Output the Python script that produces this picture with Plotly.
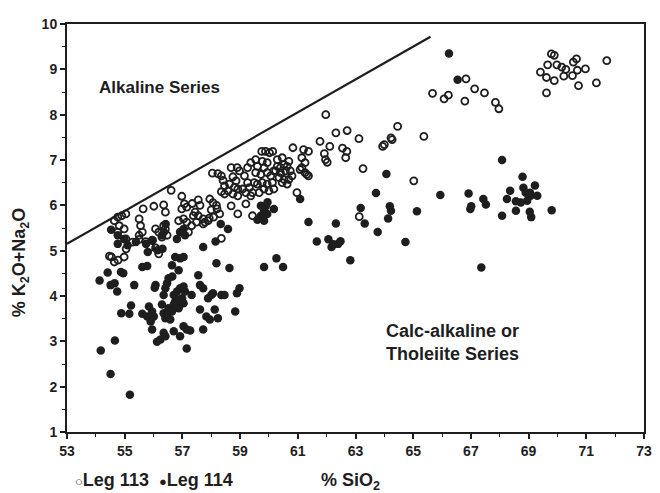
import plotly.graph_objects as go

# Leg 113 (open circles): SiO2, K2O+Na2O
leg113_x = [54.64,54.76,54.90,55.04,54.81,54.98,54.76,55.50,55.55,55.61,55.50,56.07,56.18,56.35,56.41,56.47,56.29,
            56.87,57.04,57.15,57.32,57.21,57.38,57.55,57.72,57.78,57.89,58.35,
            55.04,55.27,55.50,55.73,55.95,55.90,56.07,55.05,54.54,54.77,54.47,54.98,54.64,56.18,
            55.64,56.01,56.35,56.41,56.61,56.98,57.07,57.15,56.98,57.34,57.55,57.61,57.44,57.49,57.72,
            57.95,58.06,58.18,58.00,58.20,57.93,58.29,58.08,
            58.04,58.23,58.35,58.41,58.46,58.35,58.58,58.46,
            58.69,58.90,58.98,58.75,58.86,58.63,58.81,58.92,58.75,58.92,
            58.69,58.92,59.20,
            59.15,59.26,59.09,59.20,59.32,59.43,59.37,59.49,59.60,59.54,59.72,59.60,59.77,59.94,59.83,59.94,60.06,60.17,60.12,59.94,59.77,59.66,59.83,60.00,60.17,
            59.26,59.37,59.54,59.75,59.88,60.02,60.13,59.43,
            60.29,60.46,60.52,60.63,60.69,60.40,60.29,60.23,60.40,60.57,60.74,60.35,60.52,60.69,60.80,60.63,60.46,
            60.83,60.97,61.20,61.37,61.14,61.25,61.14,61.08,61.25,61.31,61.37,
            61.77,61.97,61.92,61.96,62.02,
            62.11,62.32,62.71,62.55,62.70,62.66,63.12,63.26,63.94,64.00,64.27,64.23,64.46,65.37,65.02,63.13,
            65.67,66.07,66.22,66.79,66.83,67.13,67.47,67.85,67.97,
            69.79,69.89,69.66,69.41,69.62,69.89,69.62,69.98,70.15,70.29,70.22,70.52,70.55,70.66,70.69,70.97,70.73,71.35,71.71]
leg113_y = [5.66,5.74,5.77,5.81,5.55,5.48,5.41,5.70,5.55,5.41,5.34,5.48,5.41,5.55,5.48,5.34,5.30,
            5.66,5.70,5.63,5.55,5.41,5.77,5.77,5.70,5.63,5.66,5.27,
            5.26,5.19,5.25,5.20,5.23,5.08,5.06,5.04,4.86,4.79,4.88,4.86,4.75,4.93,
            5.92,5.98,6.01,5.85,6.33,6.20,6.03,5.96,5.92,6.04,6.12,6.00,5.85,5.63,5.59,
            6.14,6.06,6.00,5.90,5.92,5.72,5.81,5.74,
            6.71,6.70,6.65,6.55,6.43,6.30,6.32,6.25,
            6.83,6.83,6.76,6.63,6.54,6.47,6.40,6.36,6.25,6.21,
            5.99,5.81,6.03,
            6.65,6.50,6.36,6.28,6.39,6.28,6.21,6.50,6.47,6.72,6.68,6.86,6.97,6.94,6.83,6.72,6.65,6.76,6.50,6.47,6.50,6.28,6.36,6.32,6.36,
            6.83,6.94,7.01,7.19,7.19,7.16,7.19,5.77,
            7.01,7.05,6.90,6.86,6.97,6.83,6.86,6.76,6.72,6.76,6.76,6.61,6.57,6.57,6.65,6.47,6.50,
            7.27,6.28,7.23,7.19,7.05,6.94,6.83,6.79,6.72,6.68,6.65,
            7.41,8.00,7.14,7.01,6.95,
            7.30,7.60,7.65,7.26,7.19,7.05,7.47,6.81,7.30,7.34,7.45,7.49,7.74,7.52,6.54,5.75,
            8.47,8.35,8.43,8.30,8.79,8.57,8.48,8.27,8.13,
            9.34,9.31,9.10,8.94,8.82,8.75,8.48,9.10,9.05,9.00,8.85,8.86,9.16,9.23,8.98,9.01,8.64,8.70,9.19]

# Leg 114 (filled circles)
leg114_x = [66.24,66.54,68.08,64.07,63.71,63.18,63.32,64.19,64.23,64.13,63.77,65.13,64.73,62.32,
            62.06,62.17,62.23,62.40,62.48,
            65.94,66.92,67.01,66.98,67.43,67.52,68.08,68.79,68.36,68.82,69.22,68.25,68.56,68.73,68.95,69.07,69.30,68.90,69.05,68.56,69.04,69.09,69.80,
            62.82,67.36,
            54.13,54.41,54.51,54.65,54.74,54.87,54.95,54.88,55.16,55.22,55.33,54.17,54.66,54.51,55.18,
            55.61,55.78,56.07,56.04,55.61,55.78,55.90,55.95,55.84,56.01,55.95,56.12,56.24,
            56.29,56.35,56.41,56.52,56.47,56.58,56.64,56.35,56.41,56.35,56.41,56.47,56.52,56.70,
            56.64,56.75,56.92,57.04,56.87,
            56.70,56.81,56.92,57.04,57.09,56.75,56.87,56.99,56.92,57.04,56.87,56.70,
            56.92,57.04,57.15,57.27,57.15,57.32,57.55,57.61,57.72,57.61,57.72,57.83,57.95,57.89,58.00,58.06,58.12,58.23,58.18,58.35,58.46,58.63,58.83,58.89,58.98,59.83,60.26,60.49,
            54.53,54.76,54.98,54.76,55.10,56.29,57.04,56.92,56.81,57.09,58.15,58.33,58.58,57.72,
            59.60,59.72,59.83,59.94,59.89,59.72,59.95,59.83,
            60.17,61.37,61.66,61.08,
            55.39,55.74,55.97,56.14,56.31,55.80,56.42,56.36,56.65]
leg114_y = [9.35,8.77,7.00,6.69,6.27,5.94,5.60,5.98,5.88,5.71,5.41,5.87,5.19,5.60,
            5.25,5.08,5.14,5.15,5.21,
            6.23,6.26,5.98,5.92,6.14,6.02,5.77,6.63,6.32,6.39,6.44,6.14,6.09,6.06,6.10,6.21,6.21,6.28,6.28,5.88,5.86,5.74,5.89,
            4.79,4.63,
            4.34,4.52,4.24,4.28,4.10,4.53,4.50,3.62,3.61,3.79,4.24,2.80,3.02,2.28,1.82,
            4.64,4.66,4.24,4.18,3.61,3.55,3.44,3.66,3.77,3.55,3.26,2.99,3.04,
            3.81,3.62,3.51,3.73,3.59,3.48,3.66,3.19,3.11,4.02,4.17,4.28,4.39,3.22,
            4.68,4.86,4.83,4.86,4.57,
            4.02,4.10,4.17,4.21,4.10,3.88,3.92,3.95,3.81,3.84,3.73,3.81,
            3.11,3.33,3.26,3.24,2.84,4.02,4.46,4.24,4.17,3.70,3.26,3.55,3.48,3.95,4.02,4.06,3.70,3.51,4.72,4.02,4.02,4.62,3.66,4.06,4.17,4.64,4.83,4.64,
            5.46,5.34,5.26,5.15,5.12,5.34,5.48,5.41,5.26,5.34,5.20,5.59,5.48,5.08,
            5.68,5.77,5.88,5.81,5.98,5.99,6.07,5.66,
            5.92,5.63,5.20,6.14,
            5.19,5.15,5.23,5.01,5.04,4.97,5.59,5.41,4.43]

# Alkaline / sub-alkaline boundary
boundary_x = [53.0, 65.6]
boundary_y = [5.15, 9.72]

x_ticks = [53, 55, 57, 59, 61, 63, 65, 67, 69, 71, 73]
y_ticks = [1, 2, 3, 4, 5, 6, 7, 8, 9, 10]

FONT = "Liberation Sans, Arial, sans-serif"
INK = "#1e1e1e"

fig = go.Figure()
fig.add_trace(go.Scatter(x=boundary_x, y=boundary_y, mode="lines",
                         line=dict(color=INK, width=2.2), showlegend=False, hoverinfo="skip"))
fig.add_trace(go.Scatter(x=leg113_x, y=leg113_y, mode="markers", name="Leg 113", showlegend=False,
                         marker=dict(symbol="circle-open", size=7, color=INK,
                                     line=dict(width=1.8, color=INK))))
fig.add_trace(go.Scatter(x=leg114_x, y=leg114_y, mode="markers", name="Leg 114", showlegend=False,
                         marker=dict(symbol="circle", size=8.5, color=INK, line=dict(width=0))))

sym = "<span style='font-size:13px'>{}</span>"
legend_text = ("<b>" + sym.format("\u25cb") + "Leg 113&nbsp;&nbsp;" +
               sym.format("\u25cf") + "Leg 114</b>")

# the page body adds an 8px offset, so the figure is sized 16px smaller than the window
fig.update_layout(
    width=652, height=485,
    margin=dict(l=59, r=8, t=12, b=61),
    paper_bgcolor="white", plot_bgcolor="white",
    font=dict(family=FONT, color=INK, size=14),
    showlegend=False,
    xaxis=dict(range=[53, 73], tickvals=x_ticks, ticktext=[f"<b>{v}</b>" for v in x_ticks],
               showgrid=False, zeroline=False, showline=True, linecolor=INK, linewidth=2,
               mirror=True, ticks="outside", ticklen=5, tickwidth=1.5, tickcolor=INK,
               tickfont=dict(size=14, family=FONT), ticklabeloverflow="allow",
               minor=dict(dtick=1, ticks="outside", ticklen=3, tickwidth=1.2, tickcolor=INK)),
    yaxis=dict(range=[1, 10], tickvals=y_ticks, ticktext=[f"<b>{v}</b>" for v in y_ticks],
               showgrid=False, zeroline=False, showline=True, linecolor=INK, linewidth=2,
               mirror=True, ticks="outside", ticklen=5, tickwidth=1.5, tickcolor=INK,
               tickfont=dict(size=14, family=FONT), ticklabeloverflow="allow",
               minor=dict(dtick=0.5, ticks="outside", ticklen=3, tickwidth=1.2, tickcolor=INK)),
    annotations=[
        dict(text="<b>Alkaline Series</b>", x=56.22, y=8.6, xref="x", yref="y", showarrow=False,
             font=dict(size=17, family=FONT)),
        dict(text="<b>Calc-alkaline or<br>Tholeiite Series</b>", x=63.98, y=2.97, xref="x", yref="y",
             xanchor="left", yanchor="middle", align="left", showarrow=False,
             font=dict(size=18, family=FONT)),
        dict(text="<b>% SiO<sub>2</sub></b>", x=0.492, y=-0.122, xref="paper", yref="paper",
             xanchor="center", yanchor="middle", showarrow=False, font=dict(size=18, family=FONT)),
        dict(text="<b>% K<sub>2</sub>O+Na<sub>2</sub>O</b>", x=-0.0803, y=0.415, xref="paper", yref="paper",
             xanchor="center", yanchor="middle", textangle=-90, showarrow=False,
             font=dict(size=18, family=FONT)),
        dict(text=legend_text, x=0.01, y=-0.1165, xref="paper", yref="paper",
             xanchor="left", yanchor="middle", showarrow=False, font=dict(size=18, family=FONT)),
    ],
)

fig.write_html("out.html")
